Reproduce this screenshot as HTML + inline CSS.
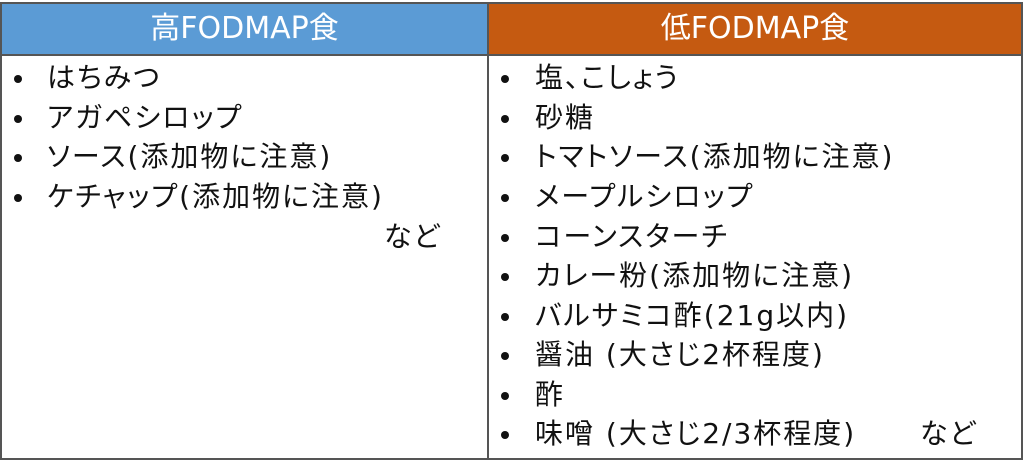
<!DOCTYPE html>
<html><head><meta charset="utf-8"><style>
body{margin:0;width:1024px;height:474px;background:#fff;position:relative;overflow:hidden;font-family:"DejaVu Sans","Noto Sans CJK JP",sans-serif;font-feature-settings:"palt";}
.box{position:absolute;border:2px solid #555;box-sizing:border-box}
.h{position:absolute;top:3px;height:52px;color:#fff;font-size:30px;line-height:52px;text-align:center}
.l{position:absolute;font-size:28px;line-height:30px;color:#111;white-space:nowrap;letter-spacing:2px}
.b{position:absolute;width:8px;height:8px;border-radius:50%;background:#111}
</style></head><body>
<div class="h" style="left:1px;width:487px;background:#5B9BD5">高FODMAP食</div>
<div class="h" style="left:488px;width:534px;background:#C55A11">低FODMAP食</div>
<div class="box" style="left:0;top:2px;width:1023px;height:458px"></div>
<div style="position:absolute;left:0;top:54px;width:1023px;height:2px;background:#555"></div>
<div style="position:absolute;left:487px;top:2px;width:2px;height:458px;background:#555"></div>

<div class="b" style="left:14px;top:75px"></div><div class="l" style="left:47px;top:63px">はちみつ</div>
<div class="b" style="left:14px;top:115px"></div><div class="l" style="left:47px;top:103px">アガペシロップ</div>
<div class="b" style="left:14px;top:154px"></div><div class="l" style="left:47px;top:142px">ソース(添加物に注意)</div>
<div class="b" style="left:14px;top:194px"></div><div class="l" style="left:47px;top:182px">ケチャップ(添加物に注意)</div>
<div class="l" style="left:384px;top:222px">など</div>

<div class="b" style="left:501px;top:75px"></div><div class="l" style="left:535px;top:63px">塩、こしょう</div>
<div class="b" style="left:501px;top:115px"></div><div class="l" style="left:535px;top:103px">砂糖</div>
<div class="b" style="left:501px;top:154px"></div><div class="l" style="left:535px;top:142px">トマトソース(添加物に注意)</div>
<div class="b" style="left:501px;top:194px"></div><div class="l" style="left:535px;top:182px">メープルシロップ</div>
<div class="b" style="left:501px;top:234px"></div><div class="l" style="left:535px;top:222px">コーンスターチ</div>
<div class="b" style="left:501px;top:273px"></div><div class="l" style="left:535px;top:261px">カレー粉(添加物に注意)</div>
<div class="b" style="left:501px;top:313px"></div><div class="l" style="left:535px;top:301px">バルサミコ酢(21g以内)</div>
<div class="b" style="left:501px;top:352px"></div><div class="l" style="left:535px;top:340px">醤油 (大さじ2杯程度)</div>
<div class="b" style="left:501px;top:392px"></div><div class="l" style="left:535px;top:380px">酢</div>
<div class="b" style="left:501px;top:431px"></div><div class="l" style="left:535px;top:419px">味噌 (大さじ2/3杯程度)</div>
<div class="l" style="left:920px;top:419px">など</div>
</body></html>
